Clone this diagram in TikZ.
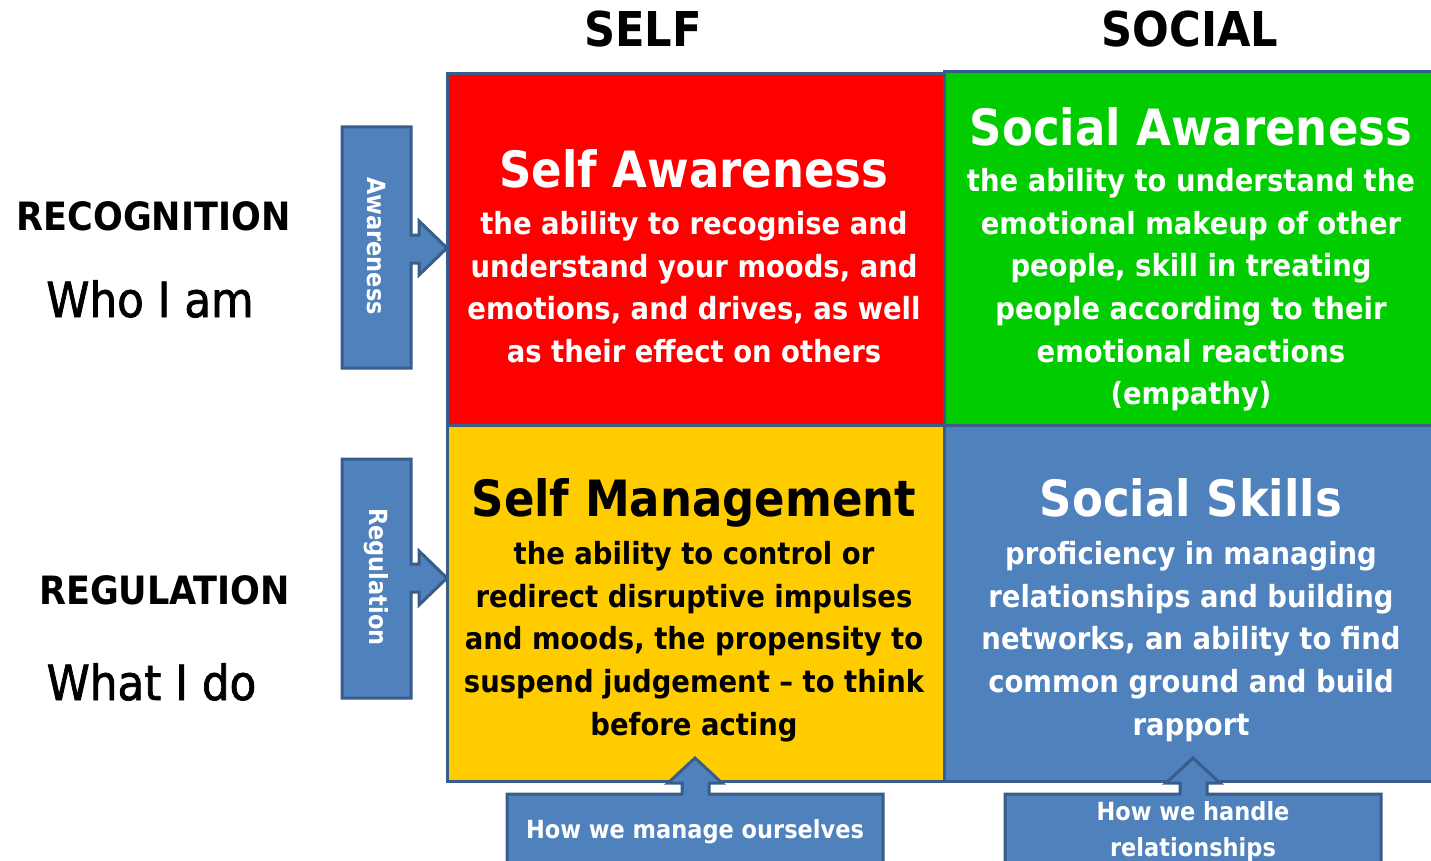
\documentclass[tikz,border=0pt]{standalone}
\usepackage{fontspec}
\setmainfont{DejaVu Sans Condensed}
\newfontfamily\medfont{DejaVu Sans Condensed}[FakeBold=1.5]
\definecolor{qred}{HTML}{FF0000}
\definecolor{qgreen}{HTML}{00CC00}
\definecolor{qyellow}{HTML}{FFCC00}
\definecolor{qblue}{HTML}{4F81BD}
\definecolor{bordc}{HTML}{385D8A}
\begin{document}
\begin{tikzpicture}[x=1pt,y=-1pt,
  quad/.style={draw=bordc, line width=3pt, inner sep=0pt},
  callout/.style={fill=qblue, draw=bordc, line width=3pt, line join=miter},
  head/.style={font=\bfseries\fontsize{50}{60}\selectfont, anchor=base, inner sep=0pt},
  body/.style={font=\bfseries\fontsize{30.5}{42.7}\selectfont, align=center, anchor=north, inner sep=0pt},
  colhead/.style={font=\bfseries\fontsize{48}{56}\selectfont, anchor=base, inner sep=0pt},
  rowhead/.style={font=\bfseries\fontsize{39}{46}\selectfont, anchor=base, inner sep=0pt},
  rowsub/.style={font=\medfont\fontsize{48.5}{56}\selectfont, anchor=base, inner sep=0pt},
  tag/.style={font=\bfseries\fontsize{25}{36}\selectfont, text=white, inner sep=0pt, align=center}
]
\useasboundingbox (0,0) rectangle (1431,861);
\clip (0,0) rectangle (1431,861);

% quadrants
\node[quad, fill=qred, minimum width=497pt, minimum height=351pt] (sa) at (695.5,249.5) {};
\node[quad, fill=qgreen, minimum width=496pt, minimum height=353pt] (soa) at (1192,248.5) {};
\node[quad, fill=qyellow, minimum width=497pt, minimum height=356pt] (sm) at (695.5,603) {};
\node[quad, fill=qblue, minimum width=496pt, minimum height=356pt] (ss) at (1192,603) {};

% column and row headings
\node[colhead] (self) at (643,47) {SELF};
\node[colhead] (social) at (1190,47) {SOCIAL};
\node[rowhead] (recog) at (153.5,230) {RECOGNITION};
\node[rowsub] (who) at (150,317) {Who I am};
\node[rowhead] (regul) at (164.5,604) {REGULATION};
\node[rowsub] (what) at (151.5,700) {What I do};

% quadrant texts
\node[head, text=white] (saT) at (694,187) {Self Awareness};
\node[body, text=white] (saB) at (694,211) {the ability to recognise and\\understand your moods, and\\emotions, and drives, as well\\as their effect on others};

\node[head, text=white] (soaT) at (1191,146) {Social Awareness};
\node[body, text=white] (soaB) at (1191,168) {the ability to understand the\\emotional makeup of other\\people, skill in treating\\people according to their\\emotional reactions\\(empathy)};

\node[head, text=black] (smT) at (694,516) {Self Management};
\node[body, text=black] (smB) at (694,541) {the ability to control or\\redirect disruptive impulses\\and moods, the propensity to\\suspend judgement -- to think\\before acting};

\node[head, text=white] (ssT) at (1191,516) {Social Skills};
\node[body, text=white] (ssB) at (1191,541) {proficiency in managing\\relationships and building\\networks, an ability to find\\common ground and build\\rapport};

% side callouts
\draw[callout] (342,127) -- (411,127) -- (411,235) -- (419,235) -- (419,221) -- (447,248)
  -- (419,275) -- (419,263) -- (411,263) -- (411,368) -- (342,368) -- cycle;
\node[tag, rotate=-90] (aw) at (376,246) {Awareness};

\draw[callout] (342,459) -- (411,459) -- (411,564) -- (419,564) -- (419,551) -- (447,578)
  -- (419,605) -- (419,592) -- (411,592) -- (411,698) -- (342,698) -- cycle;
\node[tag, rotate=-90] (rg) at (376,577) {Regulation};

% bottom callouts
\draw[callout] (507,794) -- (682,794) -- (682,783) -- (668,783) -- (695,758) -- (722,783)
  -- (709,783) -- (709,794) -- (883,794) -- (883,875) -- (507,875) -- cycle;
\node[tag, anchor=base] (hm) at (695,838) {How we manage ourselves};

\draw[callout] (1005,794) -- (1180,794) -- (1180,783) -- (1166,783) -- (1193,758) -- (1220,783)
  -- (1207,783) -- (1207,794) -- (1381,794) -- (1381,875) -- (1005,875) -- cycle;
\node[tag, anchor=north] (hr) at (1193,801) {How we handle\\relationships};
\end{tikzpicture}
\end{document}
